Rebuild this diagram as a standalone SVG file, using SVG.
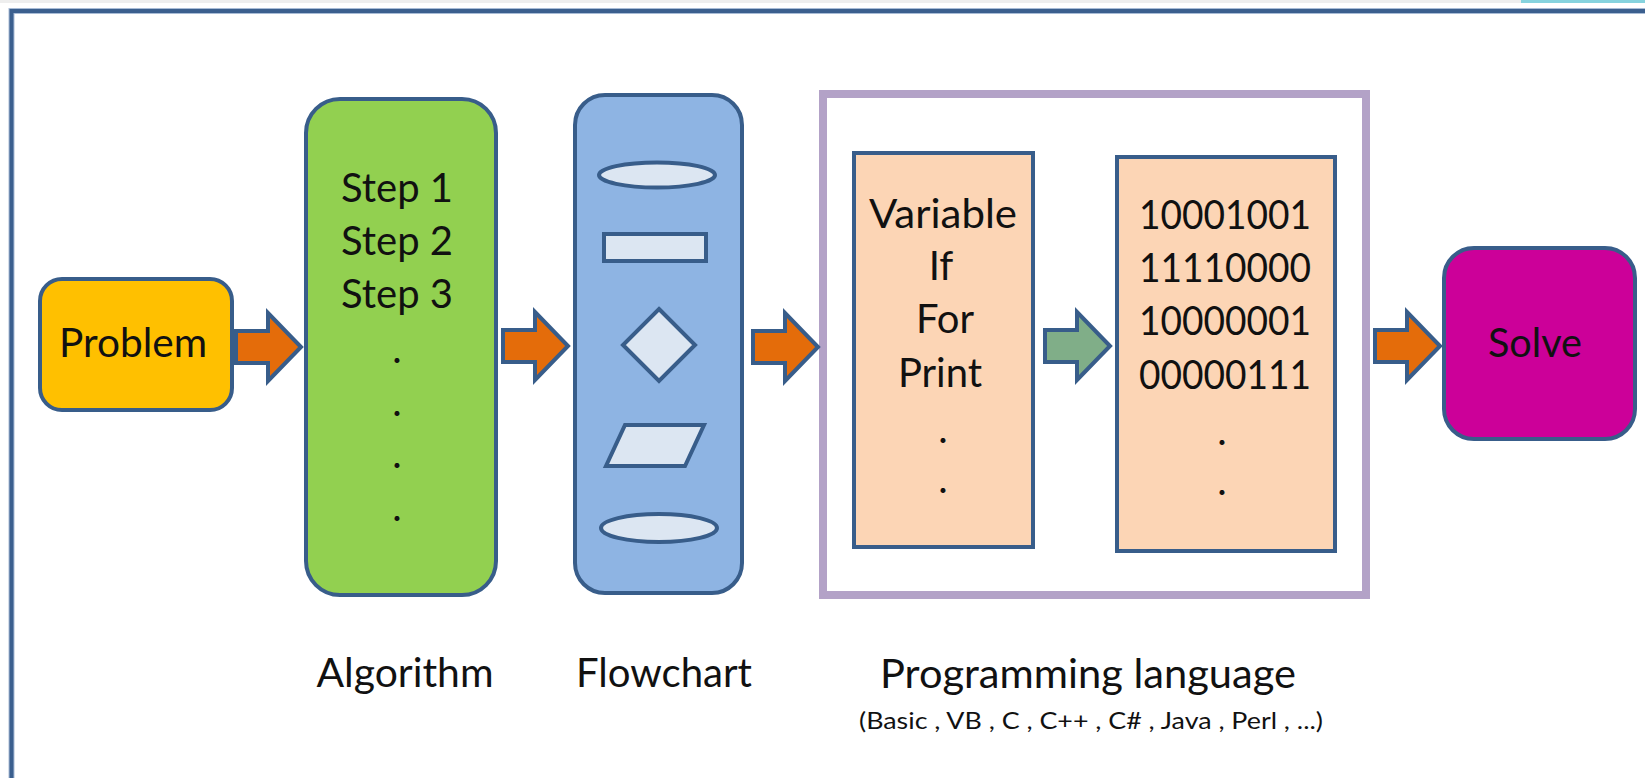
<svg xmlns="http://www.w3.org/2000/svg" width="1645" height="778" viewBox="0 0 1645 778">
  <style>
    .lbl { font-family: Lato, "Open Sans", "Liberation Sans", sans-serif; font-size: 40px; fill: #111; text-anchor: middle; }
    .sub { font-family: Lato, "Open Sans", "Liberation Sans", sans-serif; font-size: 23px; fill: #111; text-anchor: middle; }
    .edge { stroke: #385D8A; stroke-width: 4; stroke-linejoin: miter; }
    .shape { fill: #DCE6F2; stroke: #385D8A; stroke-width: 4; }
    .arrow { fill: #E46C0A; stroke: #385D8A; stroke-width: 4; stroke-linejoin: miter; }
  </style>
  <defs>
    <!-- block arrow, origin at the tail centre, 65 px long -->
    <path id="blockArrow" d="M0 -16 H32 V-34 L65 0 L32 34 V16 H0 Z"/>
  </defs>

  <!-- page background and frame -->
  <rect x="0" y="0" width="1645" height="778" fill="#FFFFFF"/>
  <rect x="0" y="0" width="1521" height="3" fill="#EEEEEE"/>
  <rect x="1521" y="0" width="124" height="3" fill="#86D3DE"/>
  <path d="M11.5 778 V11 H1645" fill="none" stroke="#A9BCD6" stroke-width="6"/>
  <path d="M11.5 778 V11 H1645" fill="none" stroke="#3B5F8E" stroke-width="4"/>

  <!-- Problem -->
  <g id="problem">
    <rect x="40" y="279" width="192" height="131" rx="22" ry="22" fill="#FFC000" class="edge"/>
    <text class="lbl" x="133" y="357" textLength="148" lengthAdjust="spacingAndGlyphs">Problem</text>
  </g>

  <!-- Algorithm -->
  <g id="algorithm">
    <rect x="306" y="99" width="190" height="496" rx="34" ry="34" fill="#92D050" class="edge"/>
    <text class="lbl" x="397" y="202">Step 1</text>
    <text class="lbl" x="397" y="255">Step 2</text>
    <text class="lbl" x="397" y="308">Step 3</text>
    <text class="lbl" x="397" y="363">.</text>
    <text class="lbl" x="397" y="416">.</text>
    <text class="lbl" x="397" y="468">.</text>
    <text class="lbl" x="397" y="521">.</text>
  </g>
  <text id="algorithm-label" class="lbl" x="405" y="687" textLength="177" lengthAdjust="spacingAndGlyphs">Algorithm</text>

  <!-- Flowchart -->
  <g id="flowchart">
    <rect x="575" y="95" width="167" height="498" rx="30" ry="30" fill="#8EB4E3" class="edge"/>
    <ellipse class="shape" cx="657" cy="175" rx="58" ry="12.5"/>
    <rect class="shape" x="604" y="234" width="102" height="27"/>
    <path class="shape" d="M659 309 L695 345 L659 381 L623 345 Z"/>
    <path class="shape" d="M625 425 L704 425 L685 466 L606 466 Z"/>
    <ellipse class="shape" cx="659" cy="528" rx="58" ry="14"/>
  </g>
  <text id="flowchart-label" class="lbl" x="664" y="687" textLength="176" lengthAdjust="spacingAndGlyphs">Flowchart</text>

  <!-- Programming language group -->
  <g id="programming-language">
    <rect x="823" y="94" width="543" height="501" fill="none" stroke="#B3A2C7" stroke-width="8"/>
    <g id="source-code">
      <rect x="854" y="153" width="179" height="394" fill="#FCD5B5" class="edge"/>
      <text class="lbl" x="943" y="228" textLength="148" lengthAdjust="spacingAndGlyphs">Variable</text>
      <text class="lbl" x="941" y="280">If</text>
      <text class="lbl" x="945" y="333">For</text>
      <text class="lbl" x="940" y="387">Print</text>
      <text class="lbl" x="943" y="443">.</text>
      <text class="lbl" x="943" y="493">.</text>
    </g>
    <g id="machine-code">
      <rect x="1117" y="157" width="218" height="394" fill="#FCD5B5" class="edge"/>
      <text class="lbl" x="1225" y="229" textLength="172" lengthAdjust="spacingAndGlyphs">10001001</text>
      <text class="lbl" x="1225" y="282" textLength="172" lengthAdjust="spacingAndGlyphs">11110000</text>
      <text class="lbl" x="1225" y="335" textLength="172" lengthAdjust="spacingAndGlyphs">10000001</text>
      <text class="lbl" x="1225" y="389" textLength="172" lengthAdjust="spacingAndGlyphs">00000111</text>
      <text class="lbl" x="1222" y="445">.</text>
      <text class="lbl" x="1222" y="495">.</text>
    </g>
  </g>
  <text id="programming-label" class="lbl" x="1088" y="688" textLength="416" lengthAdjust="spacingAndGlyphs">Programming language</text>
  <text id="languages-label" class="sub" x="1091" y="729" textLength="464" lengthAdjust="spacingAndGlyphs">(Basic , VB , C , C++ , C# , Java , Perl , ...)</text>

  <!-- Solve -->
  <g id="solve">
    <rect x="1444" y="248" width="191" height="191" rx="30" ry="30" fill="#CC0099" class="edge"/>
    <text class="lbl" x="1535" y="357" textLength="94" lengthAdjust="spacingAndGlyphs">Solve</text>
  </g>

  <!-- connectors -->
  <g id="connectors">
    <use href="#blockArrow" class="arrow" transform="translate(236 347)"/>
    <use href="#blockArrow" class="arrow" transform="translate(503 346)"/>
    <use href="#blockArrow" class="arrow" transform="translate(753 347)"/>
    <use href="#blockArrow" class="arrow" transform="translate(1045 346)" style="fill:#80AE88"/>
    <use href="#blockArrow" class="arrow" transform="translate(1375 346)"/>
  </g>
</svg>
